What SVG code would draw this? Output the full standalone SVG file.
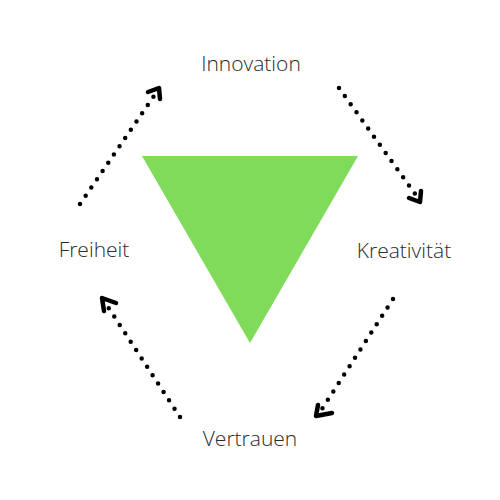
<svg xmlns="http://www.w3.org/2000/svg" width="500" height="500" viewBox="0 0 500 500">
<style>
.lbl{font-family:"Open Sans","Noto Sans",sans-serif;font-weight:300;font-size:21px;fill:#2b2b2b;text-anchor:middle}
.dot{fill:none;stroke:#000;stroke-width:4.5;stroke-linecap:round;stroke-dasharray:0 10}
.head{fill:none;stroke:#000;stroke-width:4.5;stroke-linecap:round;stroke-linejoin:round}
</style>
<rect width="500" height="500" fill="#fff"/>
<g id="triangle"><polygon points="142,156 358,156 250,343" fill="#80DB5A"/></g>
<g id="n-innovation"><text class="lbl" x="251" y="71">Innovation</text></g>
<g id="n-kreativitaet"><text class="lbl" x="404" y="258">Kreativität</text></g>
<g id="n-vertrauen"><text class="lbl" x="250" y="446">Vertrauen</text></g>
<g id="n-freiheit"><text class="lbl" x="94" y="257">Freiheit</text></g>
<g id="connectors">
<path class="dot" d="M80,204 L156,93"/>
<path class="head" d="M148,92 L159,88 L160,99"/>
<path class="dot" d="M339,88 L418,198"/>
<path class="head" d="M409,198 L420,202 L421,191"/>
<path class="dot" d="M393,299 L320,412"/>
<path class="head" d="M318,405 L316,416 L332,413"/>
<path class="dot" d="M180,417 L106,304"/>
<path class="head" d="M104,311 L102,298 L116,303"/>
</g>
</svg>
